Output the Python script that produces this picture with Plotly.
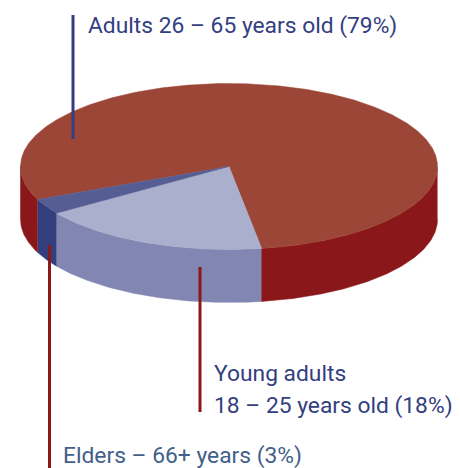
import numpy as np
import plotly.graph_objects as go

# Data
groups = ["Adults", "Young adults", "Elders"]
shares = [79, 18, 3]
top_colors = ["#9b4636", "#abafce", "#565d92"]
side_colors = ["#8a1719", "#8286b2", "#333e7c"]

# Drawing geometry (pixel axes, y down)
W, H = 460, 468
CX, CY, RX, RY, DEPTH = 229, 166.5, 208.5, 83, 53
START = -9.0  # degrees clockwise from the bottom of the ellipse; Young adults begins here


def pt(deg, dy=0.0):
    t = np.radians(deg)
    return CX - RX * np.sin(t), CY + RY * np.cos(t) + dy


def arc(a, b, dy=0.0):
    d = np.linspace(a, b, max(int(abs(b - a) * 2), 2))
    return pt(d, dy)


# order the slices clockwise from the start angle: Young adults, Elders, Adults
order = [1, 2, 0]
spans = {}
a = START
for i in order:
    b = a + shares[i] * 3.6
    spans[i] = (a, b)
    a = b

fig = go.Figure()


def poly(x, y, color, name):
    fig.add_trace(go.Scatter(x=list(x), y=list(y), mode="lines", fill="toself",
                             fillcolor=color, line=dict(color=color, width=0.5),
                             name=name, hoverinfo="name", showlegend=False))


# side walls: only the front half (-90..90 deg) shows
for i in order:
    a, b = spans[i]
    ranges = [(a, b), (a - 360, b - 360)]
    for lo, hi in ranges:
        lo2, hi2 = max(lo, -90), min(hi, 90)
        if hi2 <= lo2:
            continue
        x1, y1 = arc(lo2, hi2)
        x2, y2 = arc(hi2, lo2, DEPTH)
        poly(np.r_[x1, x2], np.r_[y1, y2], side_colors[i], groups[i])

# top faces
for i in [0, 1, 2]:
    a, b = spans[i]
    x, y = arc(a, b)
    poly(np.r_[CX, x, CX], np.r_[CY, y, CY], top_colors[i], groups[i])

# leader lines
leaders = [
    (73, 15, 139, "#33407f"),
    (200, 267, 412, "#8a1719"),
    (49.5, 245, 468, "#8a1719"),
]
for x, y0, y1, c in leaders:
    fig.add_trace(go.Scatter(x=[x, x], y=[y0, y1], mode="lines",
                             line=dict(color=c, width=3), hoverinfo="skip",
                             showlegend=False))

labels = [
    (85.5, 25, "Adults 26 – 65 years old (79%)", "#33407f"),
    (212, 373, "Young adults", "#33407f"),
    (212, 405, "18 – 25 years old (18%)", "#33407f"),
    (61, 455, "Elders – 66+ years (3%)", "#41608a"),
]
for x, y, t, c in labels:
    fig.add_annotation(x=x, y=y, text=t, showarrow=False, xanchor="left", yanchor="middle",
                       font=dict(family="Roboto, Liberation Sans, sans-serif",
                                 size=22.8, color=c))

fig.update_layout(
    width=W, height=H, margin=dict(l=0, r=0, t=0, b=0),
    paper_bgcolor="white", plot_bgcolor="white", showlegend=False,
    xaxis=dict(range=[0, W], visible=False, fixedrange=True),
    yaxis=dict(range=[H, 0], visible=False, fixedrange=True),
)
fig.write_html("out.html", config={"displayModeBar": False},
               post_script="document.body.style.margin='0';document.body.style.overflow='hidden';")
